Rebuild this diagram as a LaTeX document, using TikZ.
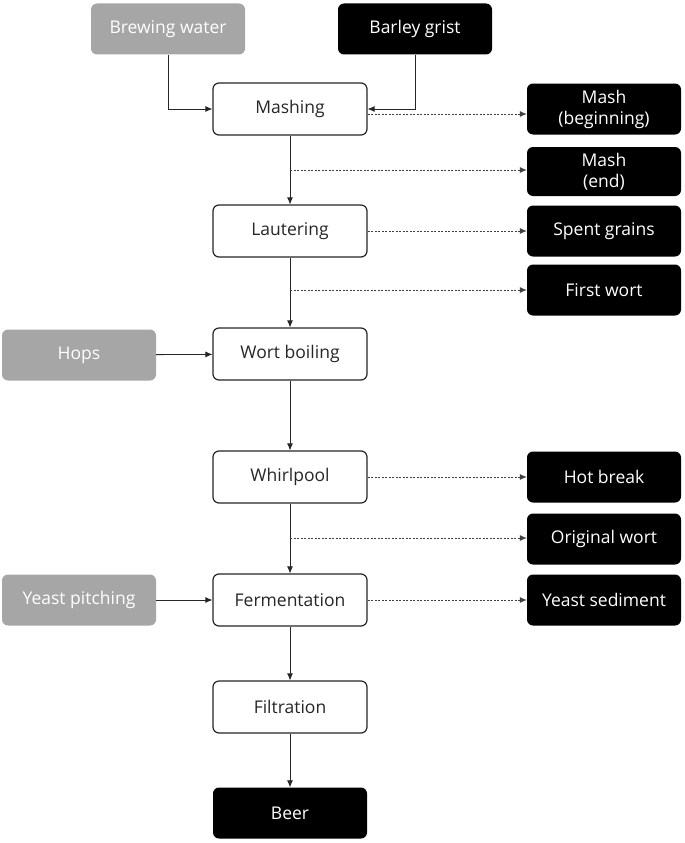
\documentclass[tikz,border=0pt]{standalone}
\usepackage{fontspec}
\setmainfont{Open Sans}
\usetikzlibrary{arrows.meta}
\begin{document}
\begin{tikzpicture}[x=1pt,y=-1pt,
  base/.style={rounded corners=6pt, align=center, inner sep=2pt,
    font=\fontsize{17.5}{22}\selectfont, minimum width=154pt, minimum height=51pt},
  proc/.style={base, draw=black!85, line width=1.2pt, fill=white, text=black!85, minimum height=52pt},
  outp/.style={base, fill=black, text=white},
  inp/.style={base, fill=black!35, text=white},
  arr/.style={draw=black!85, line width=0.8pt, -{Latex[length=7pt,width=6pt]}},
  dsh/.style={draw=black!75, line width=0.8pt, dash pattern=on 2pt off 1.5pt, -{Latex[length=7pt,width=6pt]}}
]
\useasboundingbox (0,0) rectangle (685,843);
% inputs
\node[inp]  (water) at (168,29) {Brewing water};
\node[outp] (grist) at (415,29) {Barley grist};
\node[inp]  (hops)  at (79,355) {Hops};
\node[inp]  (yeastp) at (79,600) {Yeast pitching};
% process
\node[proc] (mash)  at (290,109) {Mashing};
\node[proc] (laut)  at (290,231) {Lautering};
\node[proc] (boil)  at (290,354) {Wort boiling};
\node[proc] (whirl) at (290,477) {Whirlpool};
\node[proc] (ferm)  at (290,600) {Fermentation};
\node[proc] (filt)  at (290,707) {Filtration};
\node[outp] (beer)  at (290,813) {Beer};
% outputs
\node[outp, font=\fontsize{17.5}{21}\selectfont] (mashb) at (604,109) {Mash\\(beginning)};
\node[outp, font=\fontsize{17.5}{21}\selectfont, minimum height=49pt] (mashe) at (604,171.5) {Mash\\(end)};
\node[outp] (spent) at (604,231) {Spent grains};
\node[outp] (first) at (604,290) {First wort};
\node[outp] (hot)   at (604,477) {Hot break};
\node[outp] (orig)  at (604,539) {Original wort};
\node[outp] (sed)   at (604,600) {Yeast sediment};
% side coordinates
\coordinate (c1) at (290,170);
\coordinate (c2) at (290,290);
\coordinate (c3) at (290,538);
% connectors
\draw[arr] (water.south) |- (mash.west);
\draw[arr] (grist.south) |- (mash.east);
\draw[dsh] ([yshift=-5pt]mash.east) -- ([yshift=-5pt]mash.east -| mashb.west);
\draw[arr] (mash) -- (laut);
\draw[dsh] (c1) -- (c1 -| mashe.west);
\draw[dsh] (laut) -- (spent);
\draw[arr] (laut) -- (boil);
\draw[dsh] (c2) -- (first);
\draw[arr] (hops) -- (boil);
\draw[arr] (boil) -- (whirl);
\draw[dsh] (whirl) -- (hot);
\draw[arr] (whirl) -- (ferm);
\draw[dsh] (c3) -- (c3 -| orig.west);
\draw[arr] (yeastp) -- (ferm);
\draw[dsh] (ferm) -- (sed);
\draw[arr] (ferm) -- (filt);
\draw[arr] (filt) -- (beer);
\end{tikzpicture}
\end{document}
